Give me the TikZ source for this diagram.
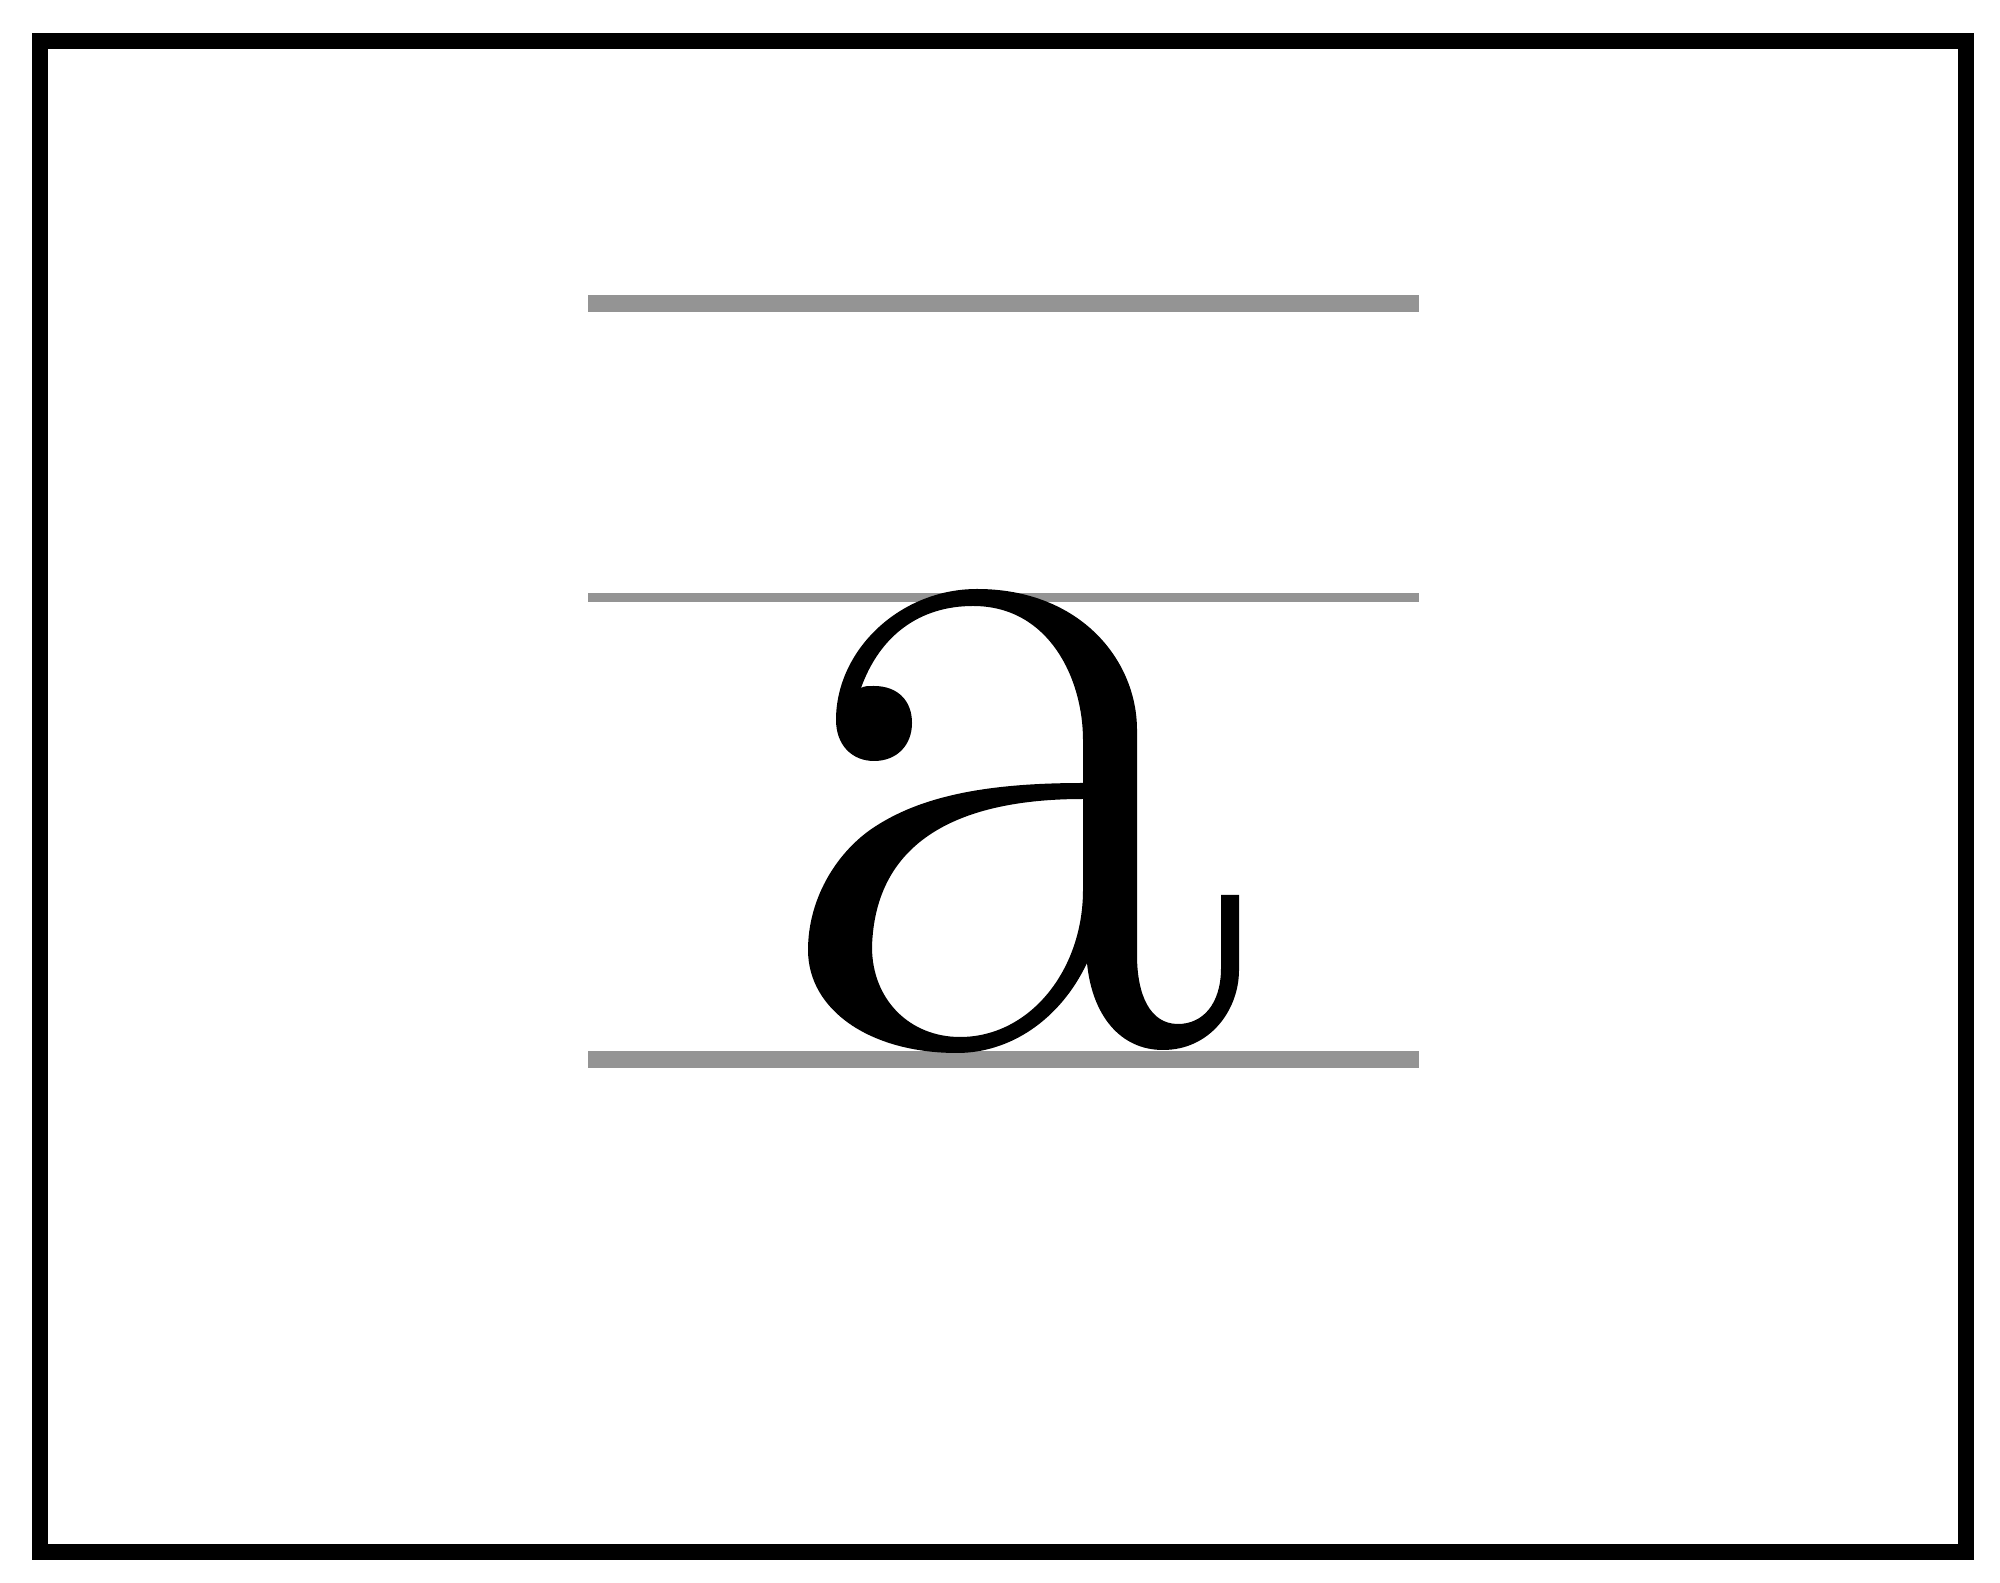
\documentclass[tikz,border=0pt]{standalone}
\begin{document}
\begin{tikzpicture}[x=0.01cm,y=-0.01cm]
\definecolor{guidegray}{RGB}{148,148,148}
\tikzset{guideline/.style={fill=guidegray}, framebox/.style={draw=black,line width=0.16cm}}
\useasboundingbox (0,0) rectangle (2000,1583);
% guide lines
\fill[guideline] (588,295) rectangle (1419,312);
\fill[guideline] (588,593) rectangle (1419,602);
\fill[guideline] (588,1051) rectangle (1419,1068);
% frame
\draw[framebox] (40,41) rectangle (1966,1552);
% letter
\fill[black,even odd rule]
  (1083,783) .. controls (990,783) and (920,795) .. (870,830)
  .. controls (835,855) and (808,900) .. (808,950)
  .. controls (808,1010) and (870,1053) .. (957,1053)
  .. controls (1010,1053) and (1060,1020) .. (1087,963)
  .. controls (1092,1015) and (1120,1050) .. (1163,1050)
  .. controls (1210,1050) and (1239,1010) .. (1239,970)
  -- (1239,895) -- (1221,895) -- (1221,968)
  .. controls (1221,1005) and (1202,1024) .. (1178,1024)
  .. controls (1150,1024) and (1137,995) .. (1137,955)
  -- (1137,730)
  .. controls (1137,660) and (1080,589) .. (977,589)
  .. controls (900,589) and (836,650) .. (836,720)
  .. controls (836,745) and (852,761) .. (874,761)
  .. controls (897,761) and (912,745) .. (912,723)
  .. controls (912,700) and (897,686) .. (874,686)
  .. controls (868,686) and (864,686) .. (861,688)
  .. controls (880,635) and (920,606) .. (973,606)
  .. controls (1050,606) and (1083,680) .. (1083,740)
  -- cycle
  (1083,799) .. controls (960,799) and (875,840) .. (872,947)
  .. controls (872,1000) and (910,1037) .. (960,1037)
  .. controls (1030,1037) and (1083,970) .. (1083,890)
  -- cycle;
\end{tikzpicture}
\end{document}
